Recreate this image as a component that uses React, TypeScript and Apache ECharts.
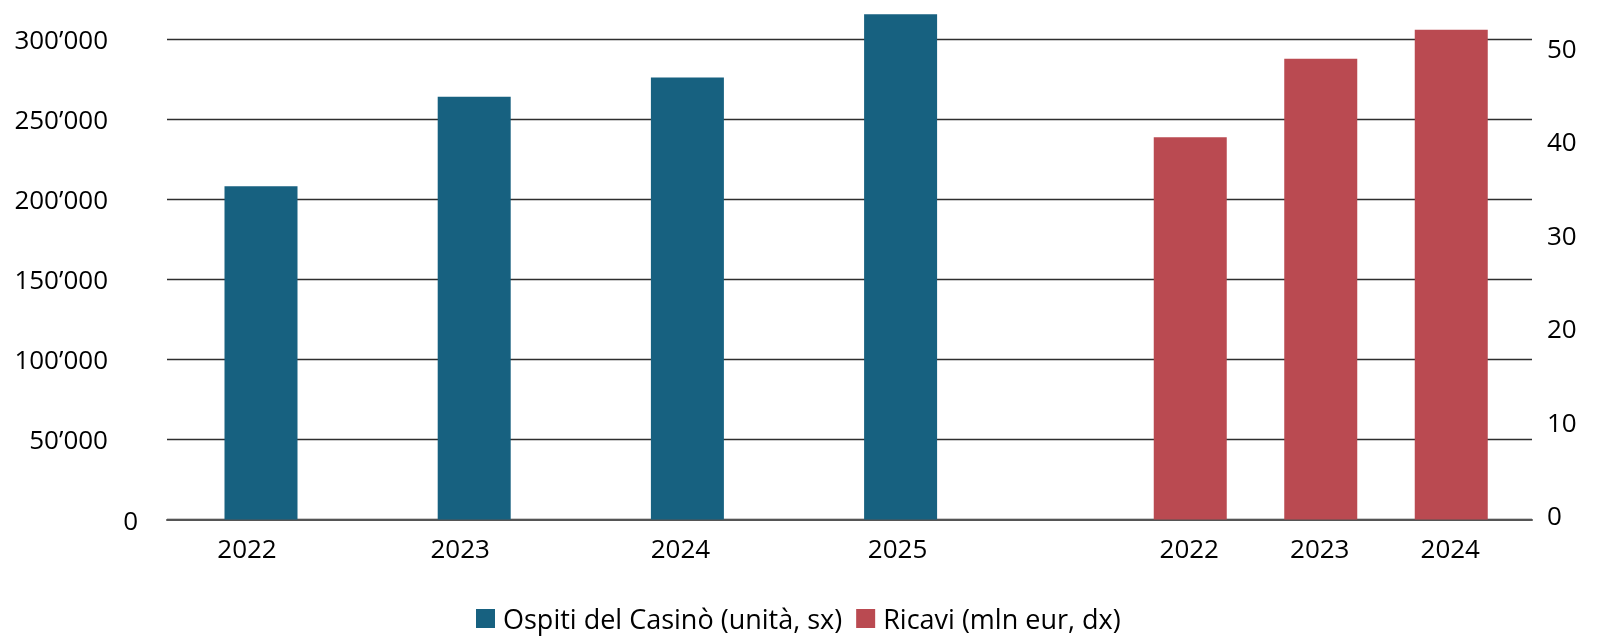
import { useEffect, useRef } from 'react';
import * as echarts from 'echarts';

// data
const guestYears = ['2022', '2023', '2024', '2025'];
const guests = [208000, 264000, 276000, 315500];
const revenueYears = ['2022', '2023', '2024'];
const revenue = [40.9, 49.3, 52.4];
const guestsName = 'Ospiti del Casinò (unità, sx)';
const revenueName = 'Ricavi (mln eur, dx)';

// the year labels under the blue bars sit a little left of their bars (px)
const guestLabelNudge = [14, 14, 7, 3];

const BLUE = '#176180';
const RED = '#BA4A51';
const FONT = '"Open Sans", "Noto Sans", sans-serif';

// plot frame in page px (top = 300'000 line)
const PLOT_TOP = 39;
const PLOT_H = 480.5;
const LEFT_MAX = 300000;
const RIGHT_MAX = 51.4;

const thousands = (v: number) => String(v).replace(/\B(?=(\d{3})+(?!\d))/g, '’');

const labelText = { color: '#000', fontSize: 26, fontFamily: FONT };

export default function App() {
  const ref = useRef<HTMLDivElement>(null);

  useEffect(() => {
    if (!ref.current) return;
    const chart = echarts.init(ref.current, undefined, { renderer: 'svg' });

    const option: any = {
      animation: false,
      textStyle: { fontFamily: FONT },
      legend: {
        data: [guestsName, revenueName],
        left: 471,
        top: 600,
        icon: 'rect',
        itemWidth: 19,
        itemHeight: 19,
        itemGap: 14,
        textStyle: { ...labelText, fontSize: 27, padding: [0, 0, 0, 3] },
      },
      grid: [
        { left: 167, right: 68, top: PLOT_TOP, height: PLOT_H, outerBoundsMode: 'none' },
        { left: 154.4, width: 852.8, top: PLOT_TOP, height: PLOT_H, outerBoundsMode: 'none' },
        { left: 1125, width: 391.5, top: PLOT_TOP, height: PLOT_H, outerBoundsMode: 'none' },
      ],
      xAxis: [
        {
          gridIndex: 0,
          type: 'value',
          min: 0,
          max: 1,
          axisLine: { show: true, lineStyle: { color: '#555', width: 2 } },
          axisTick: { show: false },
          axisLabel: { show: false },
          splitLine: { show: false },
        },
        {
          gridIndex: 1,
          type: 'category',
          data: guestYears.map((y, i) => ({
            value: y,
            textStyle: { ...labelText, padding: [0, guestLabelNudge[i] * 2, 0, 0] },
          })),
          axisLine: { show: false },
          axisTick: { show: false },
          axisLabel: { ...labelText, margin: 15 },
        },
        {
          gridIndex: 2,
          type: 'category',
          data: revenueYears,
          axisLine: { show: false },
          axisTick: { show: false },
          axisLabel: { ...labelText, margin: 15, padding: [0, 2, 0, 0] },
        },
      ],
      yAxis: [
        {
          gridIndex: 0,
          type: 'value',
          position: 'left',
          min: 0,
          max: LEFT_MAX,
          interval: 50000,
          axisLine: { show: false },
          axisTick: { show: false },
          splitLine: { lineStyle: { color: '#2e2e2e', width: 1.3 } },
          axisLabel: {
            ...labelText,
            margin: 29,
            formatter: (v: number) => (v === 0 ? '0' : thousands(v) + '{g| }'),
            rich: { g: { width: 30, fontSize: 26 } },
          },
        },
        {
          gridIndex: 0,
          type: 'value',
          position: 'right',
          min: 0,
          max: RIGHT_MAX,
          interval: 10,
          axisLine: { show: false },
          axisTick: { show: false },
          splitLine: { show: false },
          axisLabel: {
            ...labelText,
            margin: 15,
            showMaxLabel: false,
            verticalAlign: 'bottom',
            lineHeight: 9,
          },
        },
        { gridIndex: 1, type: 'value', min: 0, max: LEFT_MAX, show: false },
        { gridIndex: 2, type: 'value', min: 0, max: RIGHT_MAX, show: false },
      ],
      series: [
        {
          name: guestsName,
          type: 'bar',
          xAxisIndex: 1,
          yAxisIndex: 2,
          data: guests,
          barWidth: 73,
          clip: false,
          itemStyle: { color: BLUE },
        },
        {
          name: revenueName,
          type: 'bar',
          xAxisIndex: 2,
          yAxisIndex: 3,
          data: revenue,
          barWidth: 73,
          clip: false,
          itemStyle: { color: RED },
        },
      ],
    };

    chart.setOption(option);
    return () => chart.dispose();
  }, []);

  return (
    <div
      ref={ref}
      style={{ position: 'fixed', left: 0, top: 0, width: 1600, height: 640 }}
    />
  );
}
